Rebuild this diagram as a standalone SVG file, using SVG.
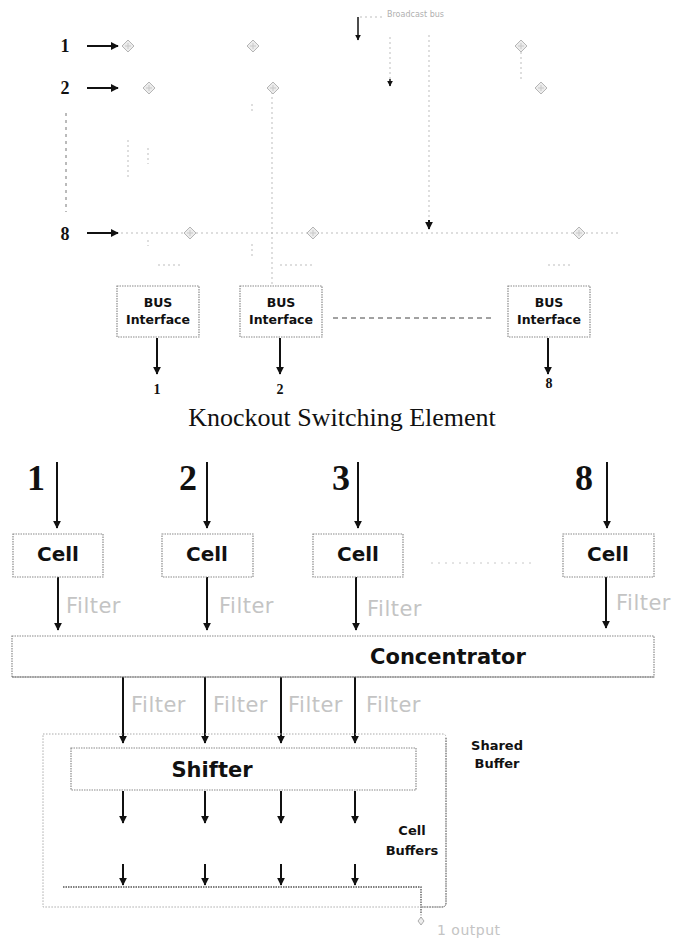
<svg xmlns="http://www.w3.org/2000/svg" width="676" height="940" viewBox="0 0 676 940">
<defs>
<style>
.num{font-family:"Liberation Serif",serif;font-weight:bold;fill:#111}
.title{font-family:"Liberation Serif",serif;font-size:26px;fill:#111}
.box{fill:#fff;stroke:#8a8a8a;stroke-width:1.2;stroke-dasharray:1.5 1}
.lbl{font-family:"DejaVu Sans",sans-serif;font-weight:bold;fill:#111;text-anchor:middle}
.filter{font-family:"DejaVu Sans",sans-serif;font-size:21px;fill:#c4c4c4;letter-spacing:0.5px}
.faint{fill:none;stroke:#bdbdbd;stroke-width:1;stroke-dasharray:2 3}
.arr{fill:none;stroke:#111;stroke-width:2;marker-end:url(#ah)}
.thin{fill:none;stroke:#111;stroke-width:1.5;marker-end:url(#ah)}
.dm{fill:#ececec;stroke:#b5b5b5;stroke-width:1}
</style>
<marker id="ah" viewBox="0 0 10 10" refX="9" refY="5" markerWidth="4" markerHeight="4" orient="auto"><path d="M0,0L10,5L0,10z" fill="#111"/></marker>
<symbol id="dia" viewBox="-7 -7 14 14" overflow="visible"><path class="dm" d="M0,-6L6,0L0,6L-6,0z"/><path d="M-3,0H3M0,-3V3" stroke="#c8c8c8" stroke-width="1"/></symbol>
</defs>

<!-- ============ Knockout Switching Element ============ -->
<g id="connectors-top">
<path class="arr" d="M87,46H118"/>
<path class="arr" d="M87,88H118"/>
<path class="arr" d="M87,233H118"/>
<path d="M66,113V212" stroke="#777" stroke-width="1" stroke-dasharray="3 4" fill="none"/>
<path class="faint" d="M121,233H619"/>
<path class="faint" d="M382,17H358"/>
<path class="thin" d="M358,17V40"/>
<path class="faint" d="M390,37V80"/>
<path class="thin" d="M390,79V86"/>
<path class="faint" d="M429,35V221"/>
<path class="arr" d="M429,220V229"/>
<path class="faint" d="M272,92V285"/>
<path class="faint" d="M521,52V82"/>
<path class="faint" d="M128,140V178"/>
<path class="faint" d="M148,148V164"/>
<path class="faint" d="M252,104V112"/>
<path class="faint" d="M148,240V246"/>
<path class="faint" d="M252,244V258"/>
<path class="faint" d="M158,265H181"/>
<path class="faint" d="M280,265H313"/>
<path class="faint" d="M548,265H571"/>
<path d="M333,318H495" stroke="#444" stroke-width="1" stroke-dasharray="5 4" fill="none"/>
<path class="arr" d="M157,338V374"/>
<path class="arr" d="M280,338V374"/>
<path class="arr" d="M548,338V374"/>
</g>

<g id="inputs-top">
<text class="num" x="65" y="52" font-size="18" text-anchor="middle">1</text>
<text class="num" x="65" y="94" font-size="18" text-anchor="middle">2</text>
<text class="num" x="65" y="240" font-size="18" text-anchor="middle">8</text>
</g>

<g id="crosspoints">
<use href="#dia" x="121" y="39" width="14" height="14"/>
<use href="#dia" x="246" y="39" width="14" height="14"/>
<use href="#dia" x="514" y="39" width="14" height="14"/>
<use href="#dia" x="142" y="81" width="14" height="14"/>
<use href="#dia" x="266" y="81" width="14" height="14"/>
<use href="#dia" x="534" y="81" width="14" height="14"/>
<use href="#dia" x="183" y="226" width="14" height="14"/>
<use href="#dia" x="306" y="226" width="14" height="14"/>
<use href="#dia" x="572" y="226" width="14" height="14"/>
</g>

<g id="broadcast-bus">
<text x="387" y="17" font-family="DejaVu Sans, sans-serif" font-size="8" fill="#b0b0b0">Broadcast bus</text>
</g>

<g id="bus1">
<rect class="box" x="117" y="286" width="82" height="51"/>
<text class="lbl" x="158" y="307" font-size="12.5">BUS</text>
<text class="lbl" x="158" y="324" font-size="12.5">Interface</text>
</g>
<g id="bus2">
<rect class="box" x="240" y="286" width="82" height="51"/>
<text class="lbl" x="281" y="307" font-size="12.5">BUS</text>
<text class="lbl" x="281" y="324" font-size="12.5">Interface</text>
</g>
<g id="bus8">
<rect class="box" x="508" y="286" width="82" height="51"/>
<text class="lbl" x="549" y="307" font-size="12.5">BUS</text>
<text class="lbl" x="549" y="324" font-size="12.5">Interface</text>
</g>

<g id="outputs-top">
<text class="num" x="157" y="394" font-size="14" text-anchor="middle">1</text>
<text class="num" x="280" y="394" font-size="14" text-anchor="middle">2</text>
<text class="num" x="549" y="388" font-size="14" text-anchor="middle">8</text>
</g>

<g id="title">
<text class="title" x="342" y="426" text-anchor="middle">Knockout Switching Element</text>
</g>

<!-- ============ Shared buffer switch ============ -->
<g id="inputs-bottom">
<text class="num" x="36" y="490" font-size="36" text-anchor="middle">1</text>
<text class="num" x="188" y="490" font-size="36" text-anchor="middle">2</text>
<text class="num" x="341" y="490" font-size="36" text-anchor="middle">3</text>
<text class="num" x="584" y="490" font-size="36" text-anchor="middle">8</text>
</g>

<g id="connectors-bottom">
<path class="arr" d="M57,462V528"/>
<path class="arr" d="M207,462V528"/>
<path class="arr" d="M358,462V528"/>
<path class="arr" d="M607,462V528"/>
<path class="arr" d="M58,577V630"/>
<path class="arr" d="M207,577V630"/>
<path class="arr" d="M356,577V630"/>
<path class="arr" d="M606,577V628"/>
<path class="arr" d="M123,677V743"/>
<path class="arr" d="M205,677V743"/>
<path class="arr" d="M281,677V743"/>
<path class="arr" d="M355,677V743"/>
<path class="arr" d="M123,791V823"/>
<path class="arr" d="M205,791V823"/>
<path class="arr" d="M281,791V823"/>
<path class="arr" d="M355,791V823"/>
<path class="arr" d="M123,864V885"/>
<path class="arr" d="M205,864V885"/>
<path class="arr" d="M281,864V885"/>
<path class="arr" d="M355,864V885"/>
<path d="M431,563H531" stroke="#c8c8c8" stroke-width="1" stroke-dasharray="2 5" fill="none"/>
<path d="M63,887H421V914" fill="none" stroke="#555" stroke-width="1.3" stroke-dasharray="1.5 1"/>
<path d="M421,914V924" fill="none" stroke="#999" stroke-width="1" stroke-dasharray="1.5 1.5"/>
</g>

<g id="cell1">
<rect class="box" x="13" y="534" width="90" height="43"/>
<text class="lbl" x="58" y="561" font-size="20">Cell</text>
</g>
<g id="cell2">
<rect class="box" x="162" y="534" width="91" height="43"/>
<text class="lbl" x="207" y="561" font-size="20">Cell</text>
</g>
<g id="cell3">
<rect class="box" x="313" y="534" width="90" height="43"/>
<text class="lbl" x="358" y="561" font-size="20">Cell</text>
</g>
<g id="cell8">
<rect class="box" x="563" y="534" width="91" height="43"/>
<text class="lbl" x="608" y="561" font-size="20">Cell</text>
</g>

<g id="filters-in">
<text class="filter" x="66" y="613">Filter</text>
<text class="filter" x="219" y="613">Filter</text>
<text class="filter" x="367" y="616">Filter</text>
<text class="filter" x="616" y="610">Filter</text>
</g>

<g id="concentrator">
<rect class="box" x="12" y="636" width="642" height="41"/>
<path d="M12,677H654" stroke="#555" stroke-width="1" stroke-dasharray="1.5 1"/>
<text class="lbl" x="448" y="664" font-size="21">Concentrator</text>
</g>

<g id="filters-out">
<text class="filter" x="131" y="712">Filter</text>
<text class="filter" x="213" y="712">Filter</text>
<text class="filter" x="288" y="712">Filter</text>
<text class="filter" x="366" y="712">Filter</text>
</g>

<g id="shared-buffer">
<path d="M43,734H443Q446,734 446,738V903Q446,907 442,907H43Z" fill="none" stroke="#aaa" stroke-width="1" stroke-dasharray="1.5 1.5"/>
<path d="M446,738V903Q446,907 442,907H421" fill="none" stroke="#666" stroke-width="1" stroke-dasharray="1.5 1"/>
<text class="lbl" x="497" y="750" font-size="13" fill="#222">Shared</text>
<text class="lbl" x="497" y="768" font-size="13" fill="#222">Buffer</text>
</g>

<g id="shifter">
<rect class="box" x="71" y="748" width="345" height="42"/>
<text class="lbl" x="212" y="777" font-size="21">Shifter</text>
</g>

<g id="cell-buffers">
<text class="lbl" x="412" y="835" font-size="13">Cell</text>
<text class="lbl" x="412" y="855" font-size="13">Buffers</text>
</g>

<g id="output">
<path d="M421,917L424,921L421,925L418,921Z" fill="#eee" stroke="#999" stroke-width="0.8"/>
<text x="437" y="935" font-family="DejaVu Sans, sans-serif" font-size="14" fill="#c4c4c4" letter-spacing="0.5">1 output</text>
</g>
</svg>
